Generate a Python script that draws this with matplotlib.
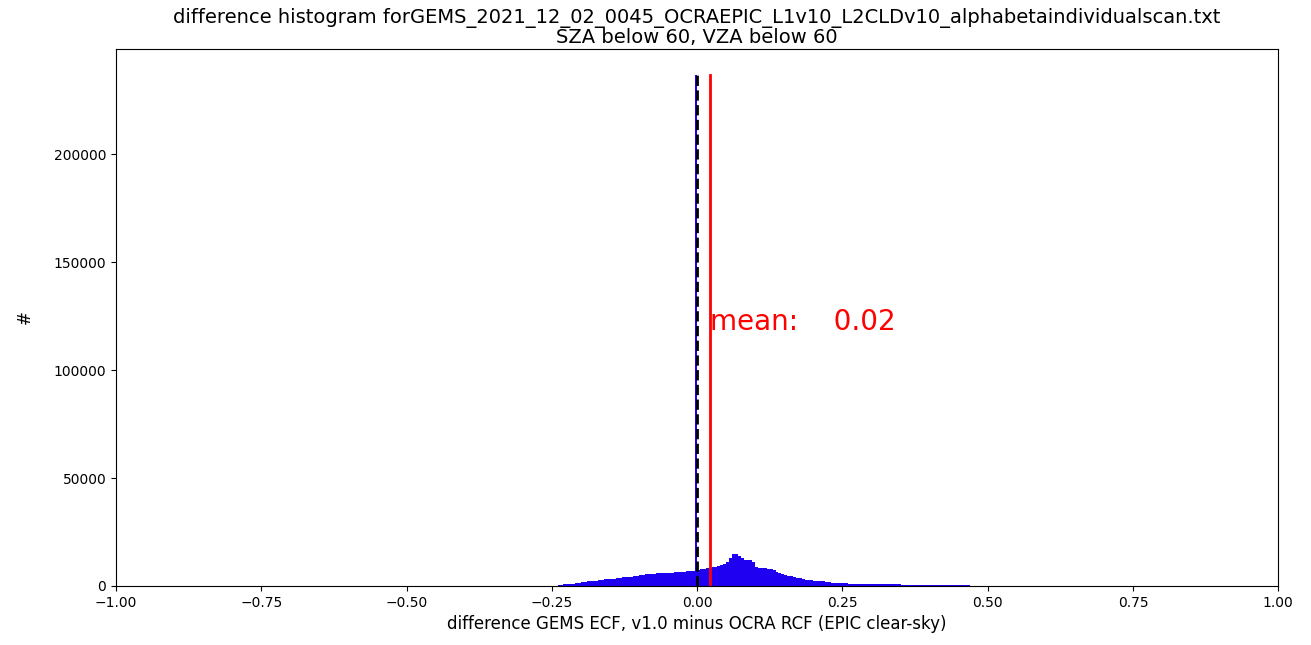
import numpy as np
from matplotlib import pyplot as plt

# histogram
# left ramp, 0.01 wide bins from -0.25 to 0.0
left_counts = [100, 400, 800, 1150, 1500, 1800, 2100, 2400, 2700, 3050,
               3350, 3700, 4000, 4300, 4700, 5000, 5500, 5600, 5800, 6000,
               6200, 6400, 6600, 6800, 7000]
# centre, 0.005 wide bins from 0.0 to 0.2
mid_counts = [7600, 7800, 8000, 8200, 8400, 8700, 9000, 9400, 9800, 10200,
              11200, 13000, 14800, 14900, 13800, 12800, 12200, 12000, 12100, 11000,
              9000, 8500, 8300, 8200, 8100, 7800, 7200, 6700, 6000, 5600,
              5100, 4800, 4400, 4100, 3900, 3600, 3300, 3000, 2800, 2600]
# tail, 0.01 wide bins from 0.2 to 0.5
tail_counts = [2400, 2100, 1850, 1600, 1400, 1250, 1150, 1050, 1000, 950,
               900, 850, 800, 760, 720, 680, 640, 600, 560, 520,
               480, 440, 400, 360, 320, 280, 240, 200, 150, 100]
# the single huge bin just below zero
spike_x = -0.002
spike_count = 237000
mean_diff = 0.0224

title = ('difference histogram forGEMS_2021_12_02_0045_OCRAEPIC_L1v10_L2CLDv10_alphabetaindividualscan.txt\n'
         'SZA below 60, VZA below 60')
xlabel = 'difference GEMS ECF, v1.0 minus OCRA RCF (EPIC clear-sky)'

edges = np.concatenate([np.linspace(-0.25, 0.0, 26),
                        np.linspace(0.005, 0.2, 40),
                        np.linspace(0.21, 0.5, 30)])
counts = left_counts + mid_counts + tail_counts

fig = plt.figure(figsize=(13.11, 6.45), dpi=100)
ax = fig.add_axes([0.0885, 0.0915, 0.8865, 0.8325])
col = '#2000f0'
ax.fill_between(edges, counts + [counts[-1]], step='post', color=col, lw=0)
ax.bar([spike_x], [spike_count], width=0.002, color=col)

ax.plot([0, 0], [0, spike_count], 'k--', lw=2)
ax.plot([mean_diff, mean_diff], [0, spike_count], 'r-', lw=2)
ax.text(mean_diff, spike_count / 2, 'mean: %7.2f' % mean_diff, color='red', fontsize=20)

ax.set_xlim(-1, 1)
ax.set_ylim(0, spike_count * 1.05)
ax.set_yticks([0, 50000, 100000, 150000, 200000])
ax.set_title(title, fontsize=14, linespacing=1.0, pad=4)
ax.set_xlabel(xlabel, fontsize=12)
ax.set_ylabel('#', fontsize=12, labelpad=14)

fig.savefig('out.png', dpi=100)
